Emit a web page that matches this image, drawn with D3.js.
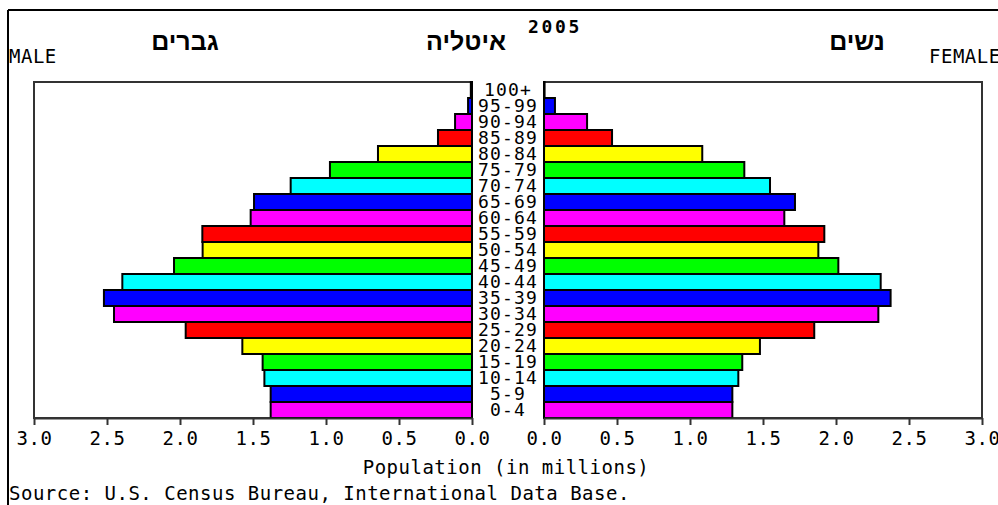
<!DOCTYPE html>
<html>
<head>
<meta charset="utf-8">
<script src="https://cdn.jsdelivr.net/npm/d3@7"></script>
<style>
  body { margin: 0; background: #fff; }
  svg { display: block; }
</style>
</head>
<body>
<svg id="svg0" width="998" height="505"></svg>
<script>

var width = 998;
var height = 505;

// age groups, bottom (youngest) first
var ageGroups = ['0-4','5-9','10-14','15-19','20-24','25-29','30-34','35-39','40-44','45-49',
  '50-54','55-59','60-64','65-69','70-74','75-79','80-84','85-89','90-94','95-99','100+'];

// millions
var male = [1.379, 1.379, 1.422, 1.434, 1.573, 1.961, 2.452, 2.521, 2.395, 2.041,
  1.845, 1.847, 1.516, 1.493, 1.242, 0.973, 0.644, 0.233, 0.116, 0.027, 0.008];
var female = [1.290, 1.290, 1.331, 1.358, 1.479, 1.851, 2.290, 2.374, 2.306, 2.016,
  1.879, 1.920, 1.646, 1.719, 1.548, 1.372, 1.084, 0.466, 0.295, 0.075, 0.004];

var barColors = ['#ff00ff', '#0000ff', '#00ffff', '#00ff00', '#ffff00', '#ff0000'];
var tickValues = [0, 0.5, 1.0, 1.5, 2.0, 2.5, 3.0];

var mono = '"DejaVu Sans Mono", "Liberation Mono", monospace';
var heb = '"Liberation Sans", Arial, sans-serif';

var svg0 = d3.select('#svg0').append('g');

// outer frame lines
svg0.append('line')
  .attr('x1', 8).attr('x2', width).attr('y1', 10).attr('y2', 10)
  .attr('stroke', '#000').attr('stroke-width', 2);
svg0.append('line')
  .attr('x1', 8).attr('x2', 8).attr('y1', 10).attr('y2', height)
  .attr('stroke', '#000').attr('stroke-width', 2);

var top0 = 82, bottom0 = 418;

var xLeft = d3.scaleLinear().domain([0, 3]).range([472, 34]);
var xRight = d3.scaleLinear().domain([0, 3]).range([544, 982]);
var y = d3.scaleBand().domain(ageGroups.slice().reverse()).range([top0, bottom0]).padding(0);

// panel boxes
svg0.append('rect')
  .attr('x', xLeft(3)).attr('y', top0)
  .attr('width', xLeft(0) - xLeft(3)).attr('height', bottom0 - top0)
  .attr('fill', 'none').attr('stroke', '#333').attr('stroke-width', 2);
svg0.append('rect')
  .attr('x', xRight(0)).attr('y', top0)
  .attr('width', xRight(3) - xRight(0)).attr('height', bottom0 - top0)
  .attr('fill', 'none').attr('stroke', '#333').attr('stroke-width', 2);

// bars
svg0.selectAll('.mbar')
  .data(male)
  .enter().append('rect')
  .attr('class', 'mbar')
  .attr('x', function(d) { return xLeft(d); })
  .attr('y', function(d, i) { return y(ageGroups[i]); })
  .attr('width', function(d) { return xLeft(0) - xLeft(d); })
  .attr('height', y.bandwidth())
  .attr('fill', function(d, i) { return barColors[i % 6]; })
  .attr('stroke', '#000').attr('stroke-width', 2);

svg0.selectAll('.fbar')
  .data(female)
  .enter().append('rect')
  .attr('class', 'fbar')
  .attr('x', xRight(0))
  .attr('y', function(d, i) { return y(ageGroups[i]); })
  .attr('width', function(d) { return xRight(d) - xRight(0); })
  .attr('height', y.bandwidth())
  .attr('fill', function(d, i) { return barColors[i % 6]; })
  .attr('stroke', '#000').attr('stroke-width', 2);

// axes
var axL = d3.axisBottom(xLeft).tickValues(tickValues).tickFormat(d3.format('.1f')).tickSize(7).tickSizeOuter(0);
var axR = d3.axisBottom(xRight).tickValues(tickValues).tickFormat(d3.format('.1f')).tickSize(7).tickSizeOuter(0);

[axL, axR].forEach(function(ax) {
  var g = svg0.append('g')
    .attr('transform', 'translate(0,' + bottom0 + ')')
    .call(ax);
  g.select('.domain').attr('stroke', '#333').attr('stroke-width', 2);
  g.selectAll('.tick line').attr('stroke', '#333').attr('stroke-width', 2);
  g.selectAll('.tick text')
    .attr('y', 14)
    .attr('font-family', mono).attr('font-size', 19).attr('letter-spacing', 0.5).attr('fill', '#000');
});

// age labels
svg0.selectAll('.age')
  .data(ageGroups)
  .enter().append('text')
  .attr('class', 'age')
  .attr('x', 508)
  .attr('y', function(d) { return y(d) + y.bandwidth() / 2 + 6; })
  .attr('text-anchor', 'middle')
  .attr('font-family', mono).attr('font-size', 18).attr('letter-spacing', 1.2).attr('fill', '#000')
  .text(function(d) { return d; });

// titles
svg0.append('text').attr('x', 185).attr('y', 50).attr('text-anchor', 'middle')
  .attr('font-family', heb).attr('font-weight', 'bold').attr('font-size', 25)
  .text('גברים');
svg0.append('text').attr('x', 466).attr('y', 50).attr('text-anchor', 'middle')
  .attr('font-family', heb).attr('font-weight', 'bold').attr('font-size', 25)
  .text('איטליה');
svg0.append('text').attr('x', 857).attr('y', 50).attr('text-anchor', 'middle')
  .attr('font-family', heb).attr('font-weight', 'bold').attr('font-size', 25)
  .text('נשים');
svg0.append('text').attr('x', 528).attr('y', 33)
  .attr('font-family', mono).attr('font-weight', 'bold').attr('font-size', 18).attr('letter-spacing', 2.7)
  .text('2005');

svg0.append('text').attr('x', 9).attr('y', 63)
  .attr('font-family', mono).attr('font-size', 19).attr('letter-spacing', 0.5)
  .text('MALE');
svg0.append('text').attr('x', 929).attr('y', 63)
  .attr('font-family', mono).attr('font-size', 19).attr('letter-spacing', 0.5)
  .text('FEMALE');

svg0.append('text').attr('x', 506).attr('y', 474).attr('text-anchor', 'middle')
  .attr('font-family', mono).attr('font-size', 19).attr('letter-spacing', 0.5)
  .text('Population (in millions)');
svg0.append('text').attr('x', 9).attr('y', 500)
  .attr('font-family', mono).attr('font-size', 19).attr('letter-spacing', 0.5)
  .text('Source: U.S. Census Bureau, International Data Base.');

</script>
</body>
</html>
